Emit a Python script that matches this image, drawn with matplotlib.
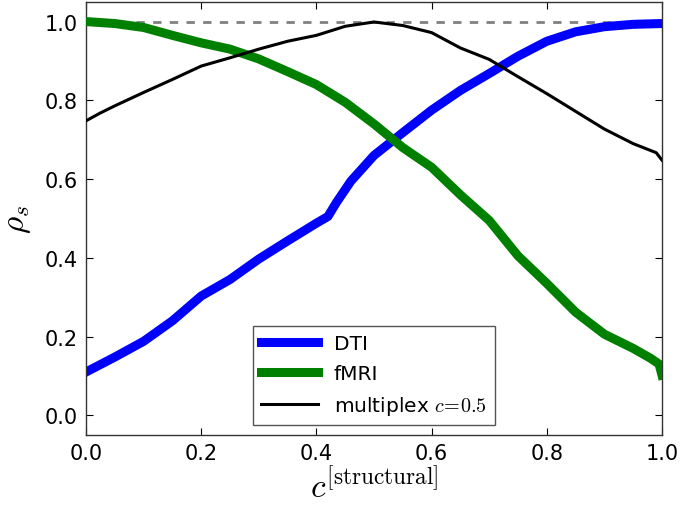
import matplotlib
matplotlib.use("Agg")
import matplotlib.pyplot as plt

plt.rcParams['mathtext.fontset'] = 'cm'
plt.rcParams['font.family'] = ['DejaVu Sans']

c_dti = [0.00, 0.05, 0.10, 0.15, 0.20, 0.25, 0.30, 0.35, 0.40, 0.42, 0.435, 0.46,
         0.50, 0.55, 0.60, 0.65, 0.70, 0.75, 0.80, 0.85, 0.90, 0.95, 1.00]
dti = [0.110, 0.148, 0.188, 0.240, 0.303, 0.345, 0.397, 0.443, 0.488, 0.505, 0.541, 0.595,
       0.660, 0.718, 0.775, 0.825, 0.868, 0.912, 0.950, 0.974, 0.987, 0.993, 0.995]

c_fmri = [0.00, 0.05, 0.10, 0.15, 0.20, 0.25, 0.30, 0.35, 0.40, 0.45, 0.50, 0.55,
          0.60, 0.65, 0.70, 0.75, 0.80, 0.85, 0.90, 0.95, 0.98, 0.995, 1.00]
fmri = [1.000, 0.995, 0.985, 0.965, 0.946, 0.930, 0.905, 0.873, 0.840, 0.795, 0.740, 0.680,
        0.630, 0.560, 0.495, 0.405, 0.335, 0.262, 0.206, 0.170, 0.145, 0.130, 0.102]

c_multi = [0.00, 0.025, 0.05, 0.10, 0.15, 0.20, 0.25, 0.30, 0.35, 0.40, 0.45, 0.50,
           0.55, 0.60, 0.65, 0.70, 0.75, 0.80, 0.85, 0.90, 0.95, 0.99, 1.00]
multi = [0.748, 0.768, 0.786, 0.820, 0.853, 0.887, 0.908, 0.930, 0.950, 0.965, 0.988, 0.999,
         0.990, 0.972, 0.933, 0.904, 0.860, 0.817, 0.772, 0.727, 0.690, 0.667, 0.648]

ref_x = [0.0, 1.0]
ref_y = [1.0, 1.0]

xticks = [0.0, 0.2, 0.4, 0.6, 0.8, 1.0]
yticks = [0.0, 0.2, 0.4, 0.6, 0.8, 1.0]

fig = plt.figure(figsize=(6.8, 5.06), dpi=100)
ax = fig.add_axes([0.1265, 0.1383, 0.847, 0.856])

ax.plot(ref_x, ref_y, color='gray', lw=2, dashes=(3, 3), zorder=1)
ax.plot(c_dti, dti, color='blue', lw=6.5, label='DTI', zorder=2)
ax.plot(c_fmri, fmri, color='green', lw=6.5, label='fMRI', zorder=3)
ax.plot(c_multi, multi, color='black', lw=2.2, label=r'multiplex $c\!=\!0.5$', zorder=4)

ax.set_xlim(0, 1)
ax.set_ylim(-0.05, 1.05)
ax.set_xticks(xticks)
ax.set_yticks(yticks)
ax.set_xticklabels([f"{t:.1f}" for t in xticks])
ax.set_yticklabels([f"{t:.1f}" for t in yticks])
ax.tick_params(direction='in', top=True, right=True, labelsize=15, length=5, width=0.8, pad=6)
for s in ax.spines.values():
    s.set_color('#333333')
    s.set_linewidth(1.0)

ax.set_xlabel(r'$c^{[\mathrm{structural}]}$', fontsize=24, labelpad=3)
ax.set_ylabel(r'$\rho_s$', fontsize=24, labelpad=8)

leg = ax.legend(loc='lower center', fontsize=14.5, handlelength=2.8, fancybox=False,
                framealpha=1, edgecolor='#555555', borderpad=0.4, labelspacing=0.55,
                bbox_to_anchor=(0.5, 0.0))
leg.get_frame().set_linewidth(1.0)

fig.savefig('out.png', dpi=100)
